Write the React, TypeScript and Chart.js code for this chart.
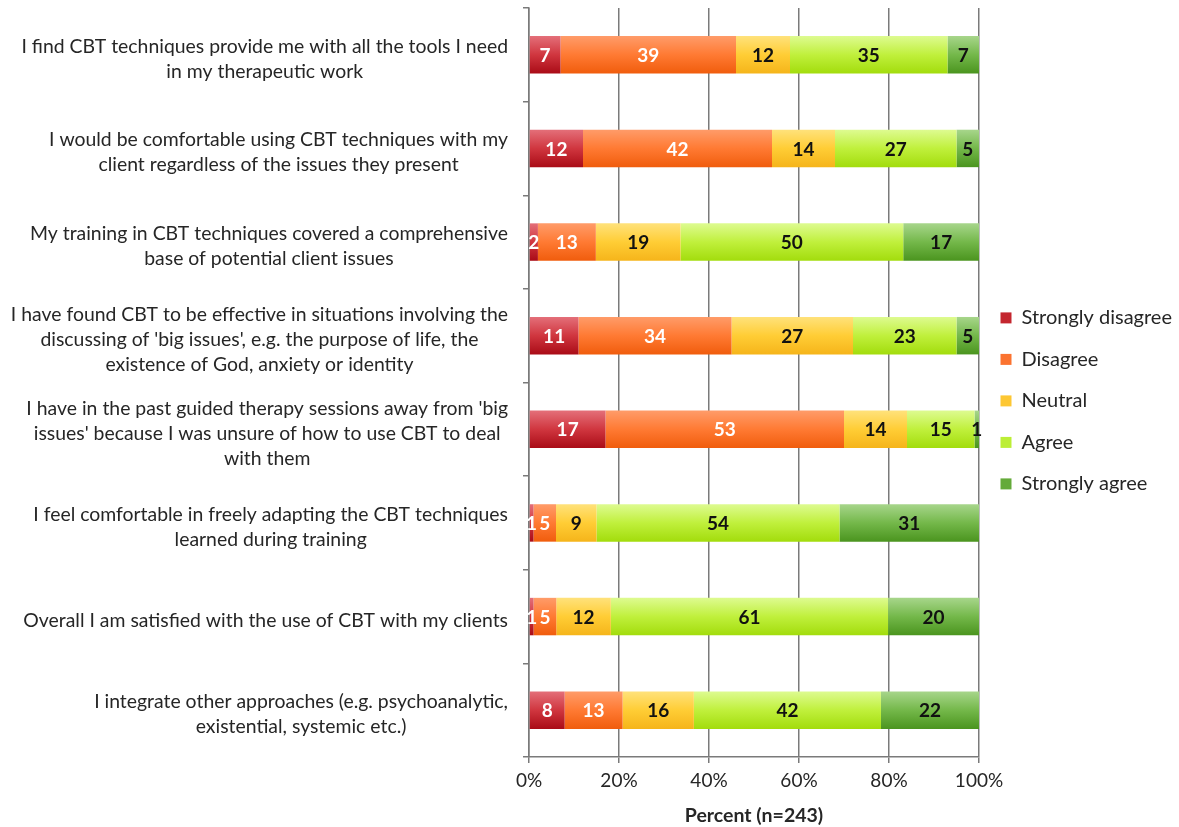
import React, { useEffect, useRef } from 'react';
import { Chart, registerables } from 'chart.js';

Chart.register(...registerables);

// ---------- data ----------
const categories: string[][] = [
  ['I find CBT techniques provide me with all the tools I need', 'in my therapeutic work'],
  ['I would be comfortable using CBT techniques with my', 'client regardless of the issues they present'],
  ['My training in CBT techniques covered a comprehensive', 'base of potential client issues'],
  [
    'I have found CBT to be effective in situations involving the',
    "discussing of 'big issues', e.g. the purpose of life, the",
    'existence of God, anxiety or identity',
  ],
  [
    "I have in the past guided therapy sessions away from 'big",
    "issues' because I was unsure of how to use CBT to deal",
    'with them',
  ],
  ['I feel comfortable in freely adapting the CBT techniques', 'learned during training'],
  ['Overall I am satisfied with the use of CBT with my clients'],
  ['I integrate other approaches (e.g. psychoanalytic,', 'existential, systemic etc.)'],
];

const seriesNames = ['Strongly disagree', 'Disagree', 'Neutral', 'Agree', 'Strongly agree'];

const stronglyDisagree = [7, 12, 2, 11, 17, 1, 1, 8];
const disagree = [39, 42, 13, 34, 53, 5, 5, 13];
const neutral = [12, 14, 19, 27, 14, 9, 12, 16];
const agree = [35, 27, 50, 23, 15, 54, 61, 42];
const stronglyAgree = [7, 5, 17, 5, 1, 31, 20, 22];

const xTickValues = [0, 20, 40, 60, 80, 100];
const xAxisTitle = 'Percent (n=243)';

// ---------- styles ----------
const FONT = 'Lato, "DejaVu Sans", sans-serif';
const TEXT = '#262626';
const GRID = '#7a7a7a';

const gradientStops: string[][] = [
  ['#e4707a', '#d0363f', '#a90b16'],
  ['#ff9c6a', '#ff7a33', '#f05c0c'],
  ['#ffe27c', '#ffcd35', '#f5b41a'],
  ['#defb92', '#c0f03c', '#a2dc0c'],
  ['#a8d68c', '#74b84a', '#4a941e'],
];
const legendColors = ['#c4262f', '#fb7330', '#fdc733', '#bcee36', '#64aa3a'];
const labelColors = ['#ffffff', '#ffffff', '#111111', '#111111', '#111111'];

const rawSeries = [stronglyDisagree, disagree, neutral, agree, stronglyAgree];
const rowTotals = categories.map((_, i) => rawSeries.reduce((s, arr) => s + arr[i], 0));

const yLabelPlugin = {
  id: 'yLabelBlocks',
  afterDraw(chart: any) {
    const ys = chart.scales.y;
    const ctx = chart.ctx;
    ctx.save();
    ctx.font = `19.4px ${FONT}`;
    ctx.fillStyle = TEXT;
    ctx.textAlign = 'center';
    ctx.textBaseline = 'middle';
    const right = ys.right - 21;
    categories.forEach((lines, i) => {
      const yc = ys.getPixelForValue(i) + 4;
      const w = Math.max(...lines.map((l) => ctx.measureText(l).width));
      const cx = right - w / 2;
      lines.forEach((l, j) => {
        ctx.fillText(l, cx, yc + (j - (lines.length - 1) / 2) * 25);
      });
    });
    ctx.restore();
  },
};

const valueLabelPlugin = {
  id: 'valueLabels',
  afterDatasetsDraw(chart: any) {
    const ctx = chart.ctx;
    ctx.save();
    ctx.font = `bold 19px ${FONT}`;
    ctx.textAlign = 'center';
    ctx.textBaseline = 'middle';
    chart.data.datasets.forEach((_: any, di: number) => {
      const meta = chart.getDatasetMeta(di);
      meta.data.forEach((el: any, i: number) => {
        const p = el.getCenterPoint();
        ctx.fillStyle = labelColors[di];
        ctx.fillText(String(rawSeries[di][i]), p.x, p.y + 1);
      });
    });
    ctx.restore();
  },
};

export default function App() {
  const canvasRef = useRef<HTMLCanvasElement | null>(null);

  useEffect(() => {
    const canvas = canvasRef.current;
    if (!canvas) return;

    const datasets = rawSeries.map((arr, di) => ({
      label: seriesNames[di],
      data: arr.map((v, i) => (v / rowTotals[i]) * 100),
      backgroundColor: (c: any) => {
        const chart = c.chart;
        const ys = chart.scales && chart.scales.y;
        const stops = gradientStops[di];
        if (!ys || c.type !== 'data') return legendColors[di];
        const yc = ys.getPixelForValue(c.dataIndex);
        const g = chart.ctx.createLinearGradient(0, yc - 19, 0, yc + 19);
        g.addColorStop(0, stops[0]);
        g.addColorStop(0.5, stops[1]);
        g.addColorStop(1, stops[2]);
        return g;
      },
      borderWidth: 0,
      barPercentage: 0.5,
      categoryPercentage: 0.8,
    }));

    const chart = new Chart(canvas, {
      type: 'bar',
      data: {
        labels: categories.map((l) => l.join(' ')),
        datasets,
      },
      options: {
        indexAxis: 'y',
        animation: false,
        responsive: true,
        maintainAspectRatio: false,
        layout: { padding: { top: 8, left: 0, right: 0, bottom: 0 } },
        scales: {
          x: {
            stacked: true,
            min: 0,
            max: 100,
            afterBuildTicks: (s: any) => {
              s.ticks = xTickValues.map((v) => ({ value: v }));
            },
            afterFit: (s: any) => {
              s.height = 70;
            },
            ticks: {
              callback: (v: any) => `${v}%`,
              color: TEXT,
              font: { family: FONT, size: 19 },
              padding: 6,
              maxRotation: 0,
            },
            grid: { color: GRID, lineWidth: 1.5, tickLength: 6, drawTicks: true },
            border: { display: true, color: GRID, width: 1.5 },
            title: {
              display: true,
              text: xAxisTitle,
              color: TEXT,
              font: { family: FONT, size: 19.5, weight: 'bold' },
              padding: { top: 0, bottom: 0 },
            },
          },
          y: {
            stacked: true,
            afterFit: (s: any) => {
              s.width = 529;
            },
            ticks: { display: false },
            grid: {
              display: true,
              drawOnChartArea: false,
              drawTicks: true,
              tickLength: 6,
              offset: true,
              color: GRID,
              lineWidth: 1.5,
            },
            border: { display: true, color: GRID, width: 1.5 },
          },
        },
        plugins: {
          tooltip: { enabled: false },
          legend: {
            position: 'right',
            fullSize: false,
            maxWidth: 200,
            title: {
              display: true,
              text: ' ',
              font: { size: 14, lineHeight: 1.2 },
              padding: 10,
            },
            labels: {
              boxWidth: 11,
              boxHeight: 11,
              padding: 21.5,
              color: TEXT,
              font: { family: FONT, size: 20 },
              generateLabels: () =>
                seriesNames.map((n, i) => ({
                  text: n,
                  fillStyle: legendColors[i],
                  strokeStyle: legendColors[i],
                  lineWidth: 0,
                  hidden: false,
                  datasetIndex: i,
                  fontColor: TEXT,
                })),
            },
          },
        },
      } as any,
      plugins: [yLabelPlugin, valueLabelPlugin],
    });

    return () => chart.destroy();
  }, []);

  return (
    <div style={{ position: 'absolute', left: 0, top: 0, width: 1179, height: 827, background: '#fff' }}>
      <canvas ref={canvasRef} />
    </div>
  );
}
